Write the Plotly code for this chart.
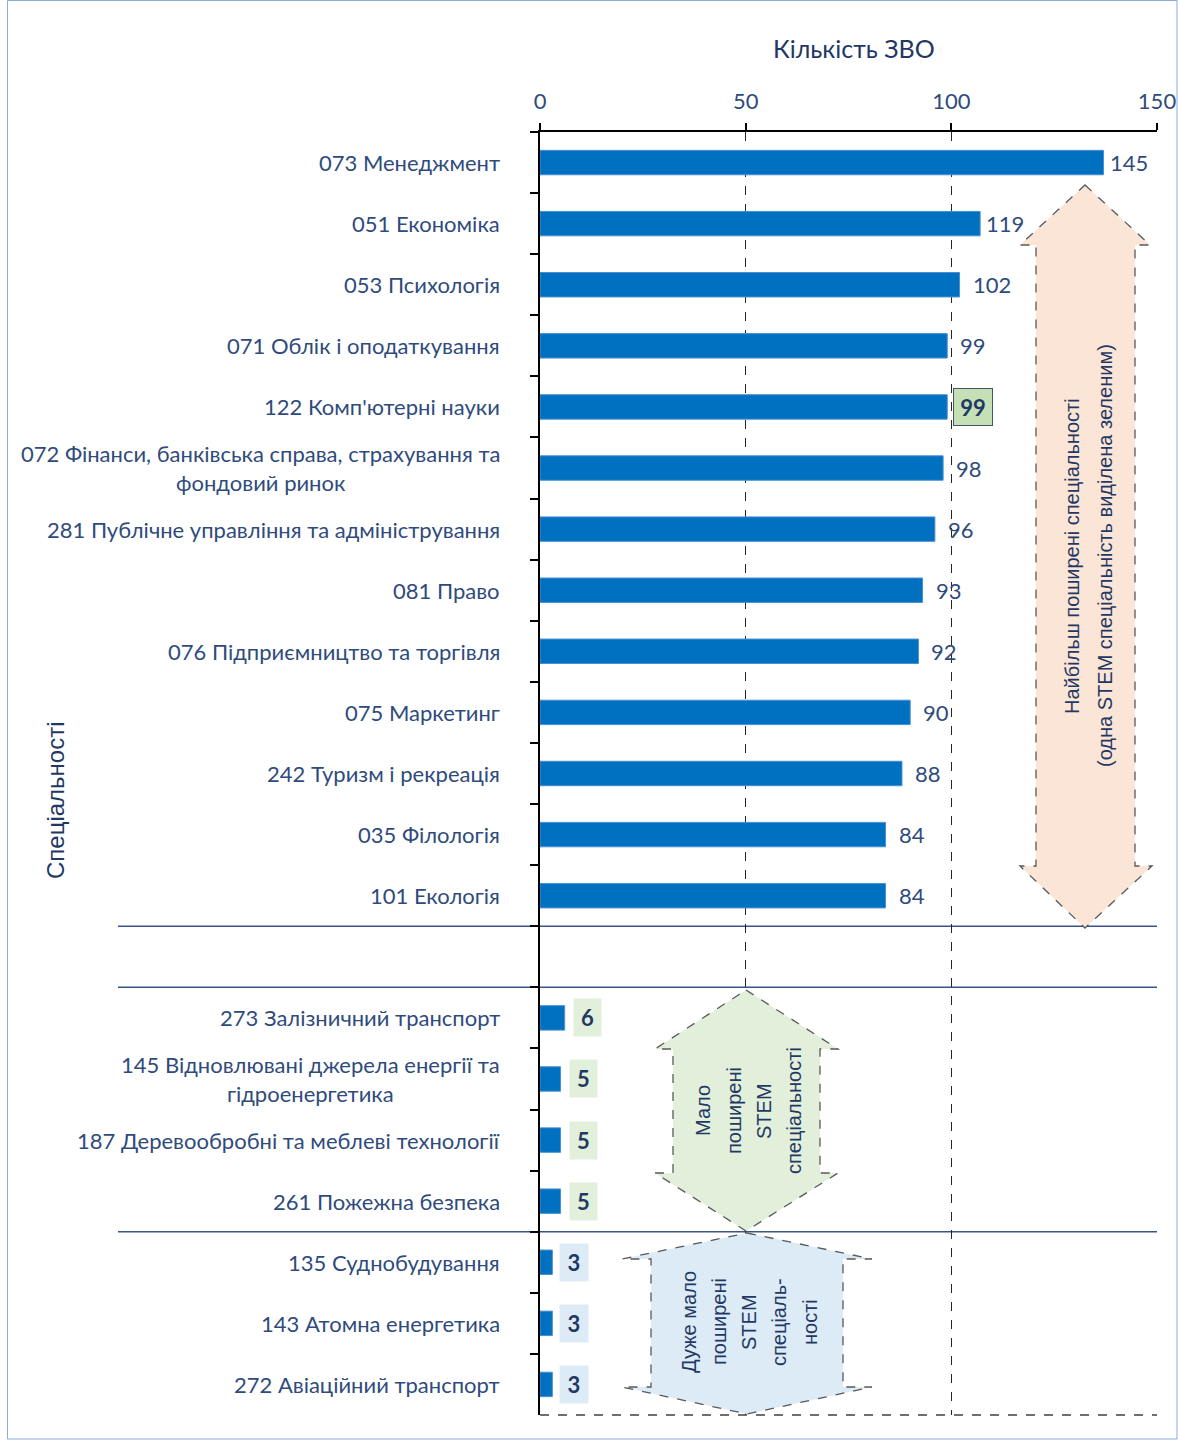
import plotly.graph_objects as go

# ---------------- data ----------------
categories = [
    "073 Менеджмент",
    "051 Економіка",
    "053 Психологія",
    "071 Облік і оподаткування",
    "122 Комп'ютерні науки",
    "072 Фінанси, банківська справа, страхування та<br>фондовий ринок",
    "281 Публічне управління та адміністрування",
    "081 Право",
    "076 Підприємництво та торгівля",
    "075 Маркетинг",
    "242 Туризм і рекреація",
    "035 Філологія",
    "101 Екологія",
    " ",
    "273 Залізничний транспорт",
    "145 Відновлювані джерела енергії та<br>гідроенергетика",
    "187 Деревообробні та меблеві технології",
    "261 Пожежна безпека",
    "135 Суднобудування",
    "143 Атомна енергетика",
    "272 Авіаційний транспорт",
]
# bar lengths as drawn in the picture
bar_lengths = [137, 107, 102, 99, 99, 98, 96, 93, 92, 90, 88, 84, 84, None,
               6, 5, 5, 5, 3, 3, 3]
# value labels as printed in the picture
value_labels = ["145", "119", "102", "99", "99", "98", "96", "93", "92", "90",
                "88", "84", "84", "", "6", "5", "5", "5", "3", "3", "3"]
label_kind = (["tight"] * 2 + ["plain"] * 2 + ["stem_top"] + ["plain"] * 8 + [None]
              + ["stem_low"] * 4 + ["stem_rare"] * 3)

x_ticks = [0, 50, 100, 150]
x_title = "Кількість ЗВО"
y_title = "Спеціальності"
top_group_text = ["Найбільш поширені спеціальності",
                  "(одна STEM спеціальність виділена зеленим)"]
low_group_text = ["Мало", "поширені", "STEM", "спеціальності"]
rare_group_text = ["Дуже мало", "поширені", "STEM", "спеціаль-", "ності"]

# ---------------- style ----------------
FONT = "Lato, 'Noto Sans', sans-serif"
FONT2 = "'Liberation Sans', Arial, sans-serif"
LBL = "#2F4B7C"
NAVY = "#1F3864"
BAR = "#0070C0"

W_FIG, H_FIG = 1178, 1440
L, R, T, B = 540, 1157, 132, 1415
PW, PH = R - L, B - T


def px(x):
    return (x - L) / PW


def py(y):
    return (B - y) / PH


fig = go.Figure()
fig.add_trace(go.Bar(
    x=bar_lengths, y=categories, orientation="h",
    marker=dict(color=BAR, line=dict(color="#4A90D0", width=1)),
    width=0.4, hoverinfo="skip",
))

annotations = []
# category labels (centered multi-line, right-anchored block)
for i, cat in enumerate(categories):
    if not cat.strip():
        continue
    annotations.append(dict(
        x=0, xref="paper", xanchor="right", xshift=-38,
        y=i, yref="y", yanchor="middle",
        text=cat, align="center", showarrow=False,
        font=dict(family=FONT, size=22, color=LBL)))

# value labels
for i, (v, lab, kind) in enumerate(zip(bar_lengths, value_labels, label_kind)):
    if v is None:
        continue
    base = dict(x=v, xref="x", y=i, yref="y", xanchor="left", yanchor="middle",
                text=lab, showarrow=False)
    if kind == "plain":
        base.update(xshift=11, font=dict(family=FONT, size=22, color=LBL))
    elif kind == "tight":
        base.update(xshift=4, font=dict(family=FONT, size=22, color=LBL))
    elif kind == "stem_top":
        base.update(xshift=6, width=38, height=36, borderpad=0,
                    bgcolor="#C5E0B4", bordercolor="#44546A", borderwidth=1,
                    font=dict(family=FONT, size=22, color=NAVY, weight="bold"))
    elif kind == "stem_low":
        base.update(xshift=8, width=27, height=37, borderpad=0,
                    bgcolor="#E2EFDA",
                    font=dict(family=FONT, size=22, color=NAVY, weight="bold"))
    else:
        base.update(xshift=7, width=28, height=37, borderpad=0,
                    bgcolor="#DDEBF7",
                    font=dict(family=FONT, size=22, color=NAVY, weight="bold"))
    annotations.append(base)

# titles
annotations.append(dict(x=px(854), xref="paper", y=py(48), yref="paper",
                        xanchor="center", yanchor="middle", text=x_title,
                        showarrow=False,
                        font=dict(family=FONT, size=25, color=NAVY)))
annotations.append(dict(x=px(55), xref="paper", y=py(800), yref="paper",
                        xanchor="center", yanchor="middle", text=y_title,
                        textangle=-90, showarrow=False,
                        font=dict(family=FONT2, size=24, color=NAVY)))

# arrow texts (one annotation per line)
def add_lines(lines, xs, yc, size=20):
    for t, xc in zip(lines, xs):
        annotations.append(dict(x=px(xc), xref="paper", y=py(yc), yref="paper",
                                xanchor="center", yanchor="middle", text=t,
                                textangle=-90, showarrow=False,
                                font=dict(family=FONT2, size=size, color=NAVY)))


add_lines(top_group_text, [1072, 1105], 556, 20)
add_lines(low_group_text, [703, 734, 764, 794], 1111, 20)
add_lines(rare_group_text, [689, 719, 749, 779, 810], 1322, 20)

shapes = []


def poly(points, fill):
    d = "M " + " L ".join(f"{px(x):.5f},{py(y):.5f}" for x, y in points) + " Z"
    shapes.append(dict(type="path", xref="paper", yref="paper", path=d,
                       fillcolor=fill, layer="above",
                       line=dict(color="#595959", width=1.3, dash="dash")))


# peach double arrow
poly([(1085, 185), (1150, 245), (1135, 245), (1135, 866), (1152, 866),
      (1085, 928), (1020, 866), (1036, 866), (1036, 245), (1020, 245)],
     "#FBE5D6")
# green double arrow
poly([(746, 990), (838, 1049), (820, 1049), (820, 1173), (838, 1173),
      (746, 1231), (655, 1173), (673, 1173), (673, 1049), (655, 1049)],
     "#E2EFDA")
# blue shape
poly([(747, 1233), (872, 1259), (843, 1259), (843, 1387), (872, 1387),
      (747, 1414), (622, 1387), (651, 1387), (651, 1259), (622, 1259)],
     "#DDEBF7")

# group separators
for b in [12.5, 13.5, 17.5]:
    shapes.append(dict(type="line", xref="paper", yref="y",
                       x0=px(118), x1=1, y0=b, y1=b, layer="below",
                       line=dict(color="#3B5486", width=1.5)))
# dashed bottom border
shapes.append(dict(type="line", xref="paper", yref="paper", x0=0, x1=1,
                   y0=0, y1=0, line=dict(color="#404040", width=1.3, dash="dash")))
# outer frame
shapes.append(dict(type="rect", xref="paper", yref="paper",
                   x0=px(7.5), x1=px(1177), y0=py(1439), y1=py(0.5),
                   line=dict(color="#8FAADC", width=1)))

fig.update_layout(
    width=W_FIG, height=H_FIG,
    margin=dict(l=L, r=W_FIG - R, t=T, b=H_FIG - B, autoexpand=False),
    paper_bgcolor="white", plot_bgcolor="white",
    showlegend=False, bargap=0.6,
    annotations=annotations, shapes=shapes,
    xaxis=dict(side="top", range=[0, 150], tickvals=x_ticks, automargin=False,
               showgrid=True, griddash="dash", gridcolor="#262626", gridwidth=1.2,
               zeroline=False, showline=True, linecolor="black", linewidth=2,
               ticks="outside", ticklen=7, tickwidth=2, tickcolor="black",
               ticklabelstandoff=5,
               tickfont=dict(family=FONT, size=22, color=LBL), fixedrange=True),
    yaxis=dict(type="category", categoryorder="array", categoryarray=categories,
               range=[20.5, -0.5], showgrid=False, zeroline=False, automargin=False,
               showline=True, linecolor="black", linewidth=2,
               ticks="outside", tickson="boundaries", ticklen=8, tickwidth=2,
               tickcolor="black", showticklabels=False, fixedrange=True),
)

fig.write_html("out.html", config={"displayModeBar": False},
               post_script="document.body.style.margin='0';")
